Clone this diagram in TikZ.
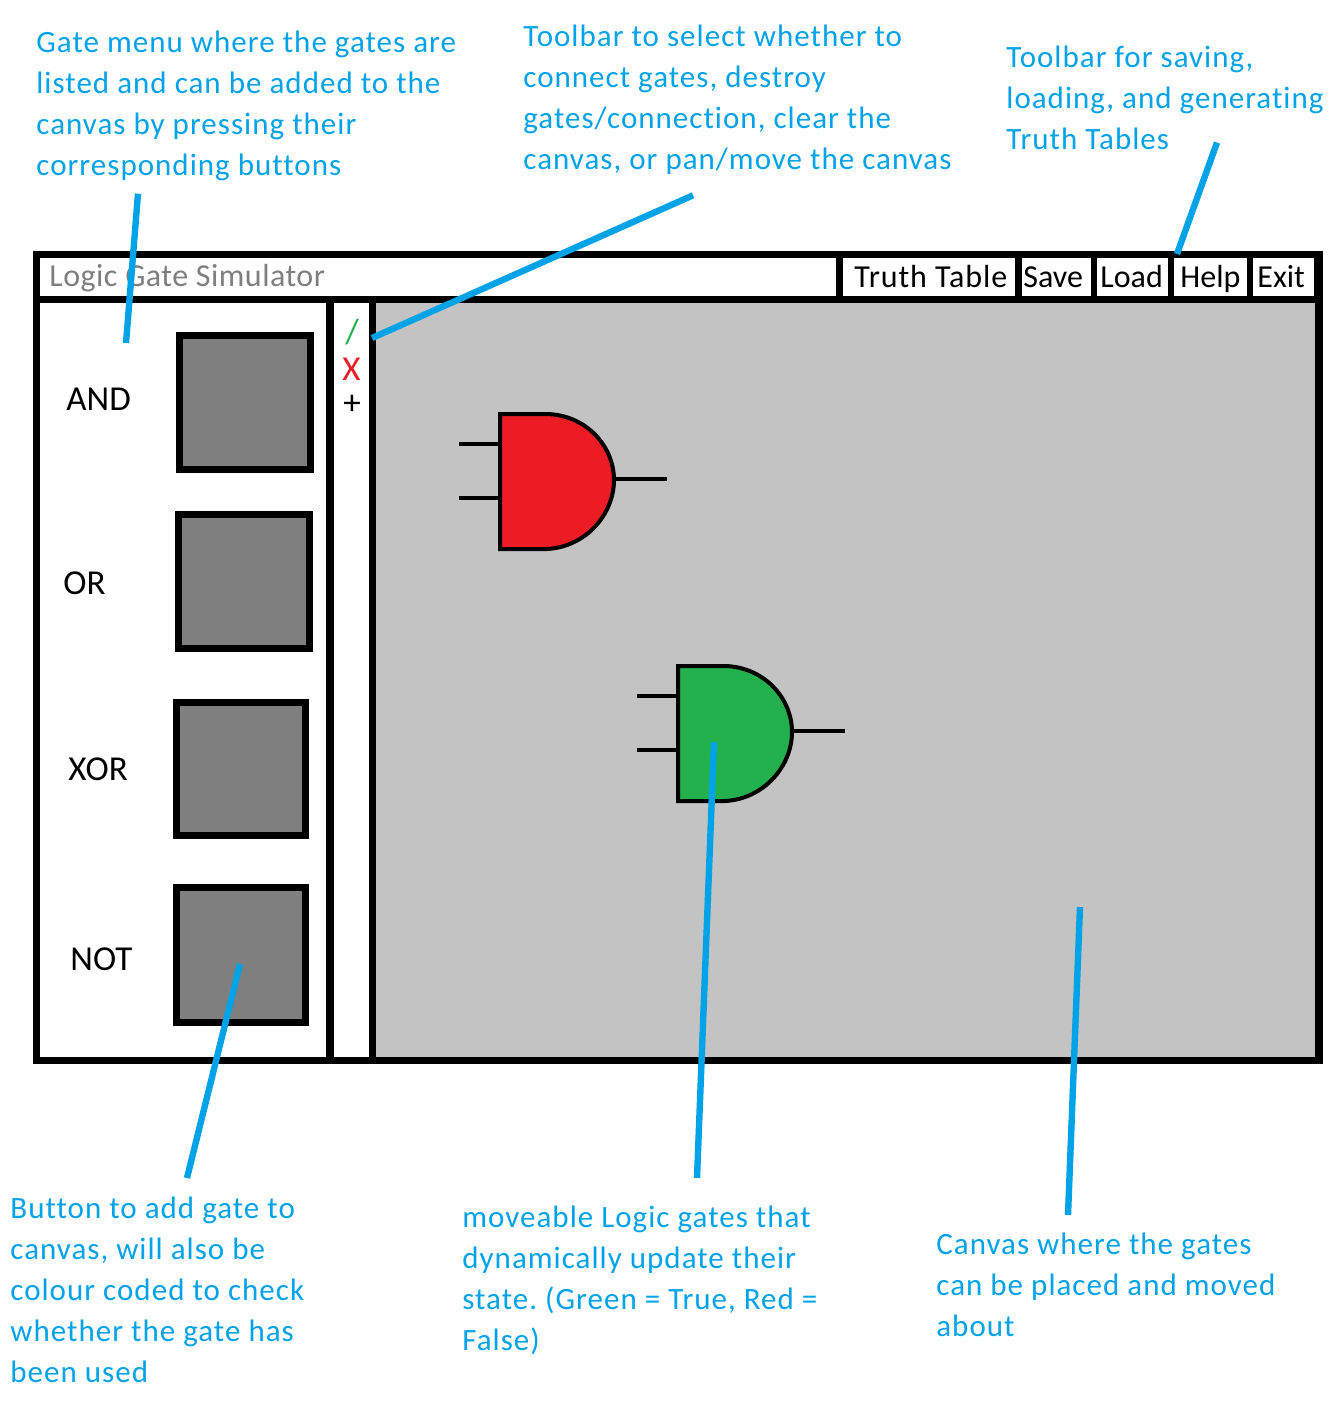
\documentclass[tikz,border=0pt]{standalone}
\usepackage{fontspec}
\setmainfont{Carlito}
\newfontfamily\notefont[Ligatures=NoCommon,LetterSpace=3.3]{Carlito}
\definecolor{notecyan}{HTML}{00A2E8}
\definecolor{canvasgray}{HTML}{C3C3C3}
\definecolor{btngray}{HTML}{7F7F7F}
\definecolor{falsered}{HTML}{ED1C24}
\definecolor{truegreen}{HTML}{22B14C}

\begin{document}
\begin{tikzpicture}[x=.5pt,y=-.5pt,
  every node/.style={inner sep=0pt,align=left},
  note/.style={anchor=north west,text=notecyan,font=\fontsize{15.5}{20.5}\notefont\frenchspacing},
  uilabel/.style={anchor=base west,font=\fontsize{16}{19}\selectfont},
  gatelabel/.style={anchor=base west,font=\fontsize{17.5}{20}\selectfont},
  leader/.style={draw=notecyan,line width=3.2pt},
  gatebtn/.style={draw=black,fill=btngray,line width=3.5pt},
  wire/.style={draw=black,line width=1.6pt}]
\useasboundingbox (0,0) rectangle (1340,1404);
% window frame and panels
\fill[black] (33,251) rectangle (1323,1064);
\fill[white] (40,258) rectangle (836,296);
\fill[white] (843,258) rectangle (1015,296);
\fill[white] (1022,258) rectangle (1091,296);
\fill[white] (1097,258) rectangle (1168,296);
\fill[white] (1174,258) rectangle (1247,296);
\fill[white] (1253,258) rectangle (1314,296);
\fill[white] (40,303) rectangle (326,1057);
\fill[white] (334,303) rectangle (369,1057);
\fill[canvasgray] (376,303) rectangle (1315,1057);
% gate buttons
\draw[gatebtn] (179.5,335.5) rectangle (310.5,469.5);
\draw[gatebtn] (178.5,514.5) rectangle (309.5,648.5);
\draw[gatebtn] (176.5,702.5) rectangle (305.5,835.5);
\draw[gatebtn] (176.5,887.5) rectangle (305.5,1022.5);
% gates on the canvas
\foreach \gx/\gy/\gcol in {0/0/falsered,178/252/truegreen}{
  \begin{scope}[shift={(\gx,\gy)}]
  \draw[wire] (459,444) -- (500,444);
  \draw[wire] (459,498) -- (500,498);
  \draw[wire] (612,479) -- (667,479);
  \draw[black,fill=\gcol,line width=2pt] (500,414) -- (547,414) .. controls (586,415) and (614,446) .. (614,480) .. controls (614,514) and (586,547) .. (547,549) -- (500,549) -- cycle;
  \end{scope}
}
% window texts
\node[uilabel,text=btngray] (title) at (49,286) {\addfontfeature{LetterSpace=1.5}Logic Gate Simulator};
\node[uilabel] (truth) at (854,287) {\addfontfeature{LetterSpace=2.8}Truth Table};
\node[uilabel] (save) at (1023,287) {Save};
\node[uilabel] (load) at (1100,287) {Load};
\node[uilabel] (help) at (1180,287) {Help};
\node[uilabel] (exit) at (1257,287) {Exit};
\node[gatelabel] (andlbl) at (66,410) {AND};
\node[gatelabel] (orlbl) at (63,594) {OR};
\node[gatelabel] (xorlbl) at (68,780) {XOR};
\node[gatelabel] (notlbl) at (70,970) {NOT};
\node[gatelabel,text=truegreen] (linktool) at (345,343) {/};
\node[gatelabel,text=falsered] (deltool) at (342,380) {X};
\node[gatelabel] (addtool) at (343,414) {+};
% notes
\node[note] (gatenote) at (36,31) {Gate menu where the gates are\\listed and can be added to the\\canvas by pressing their\\corresponding buttons};
\node[note] (toolnote) at (523,25) {Toolbar to select whether to\\connect gates, destroy\\gates/connection, clear the\\canvas, or pan/move the canvas};
\node[note] (filenote) at (1006,46) {Toolbar for saving,\\loading, and generating\\Truth Tables};
\node[note] (btnnote) at (10,1197) {Button to add gate to\\canvas, will also be\\colour coded to check\\whether the gate has\\been used};
\node[note] (movenote) at (462,1206) {moveable Logic gates that\\dynamically update their\\state. (Green = True, Red =\\False)};
\node[note] (canvasnote) at (936,1233) {Canvas where the gates\\can be placed and moved\\about};
% leader lines
\coordinate (gatehead) at (126,343);
\coordinate (toolhead) at (372,338);
\coordinate (filehead) at (1177,254);
\coordinate (btnhead) at (240,964);
\coordinate (movehead) at (714,742);
\coordinate (canvashead) at (1080,907);
\draw[leader] ([shift={(102,12)}]gatenote.south west) -- (gatehead);
\draw[leader] ([shift={(170,20)}]toolnote.south west) -- (toolhead);
\draw[leader] ([shift={(211,-8)}]filenote.south west) -- (filehead);
\draw[leader] ([shift={(177,-19)}]btnnote.north west) -- (btnhead);
\draw[leader] ([shift={(235,-28)}]movenote.north west) -- (movehead);
\draw[leader] ([shift={(132,-18)}]canvasnote.north west) -- (canvashead);
\end{tikzpicture}
\end{document}
